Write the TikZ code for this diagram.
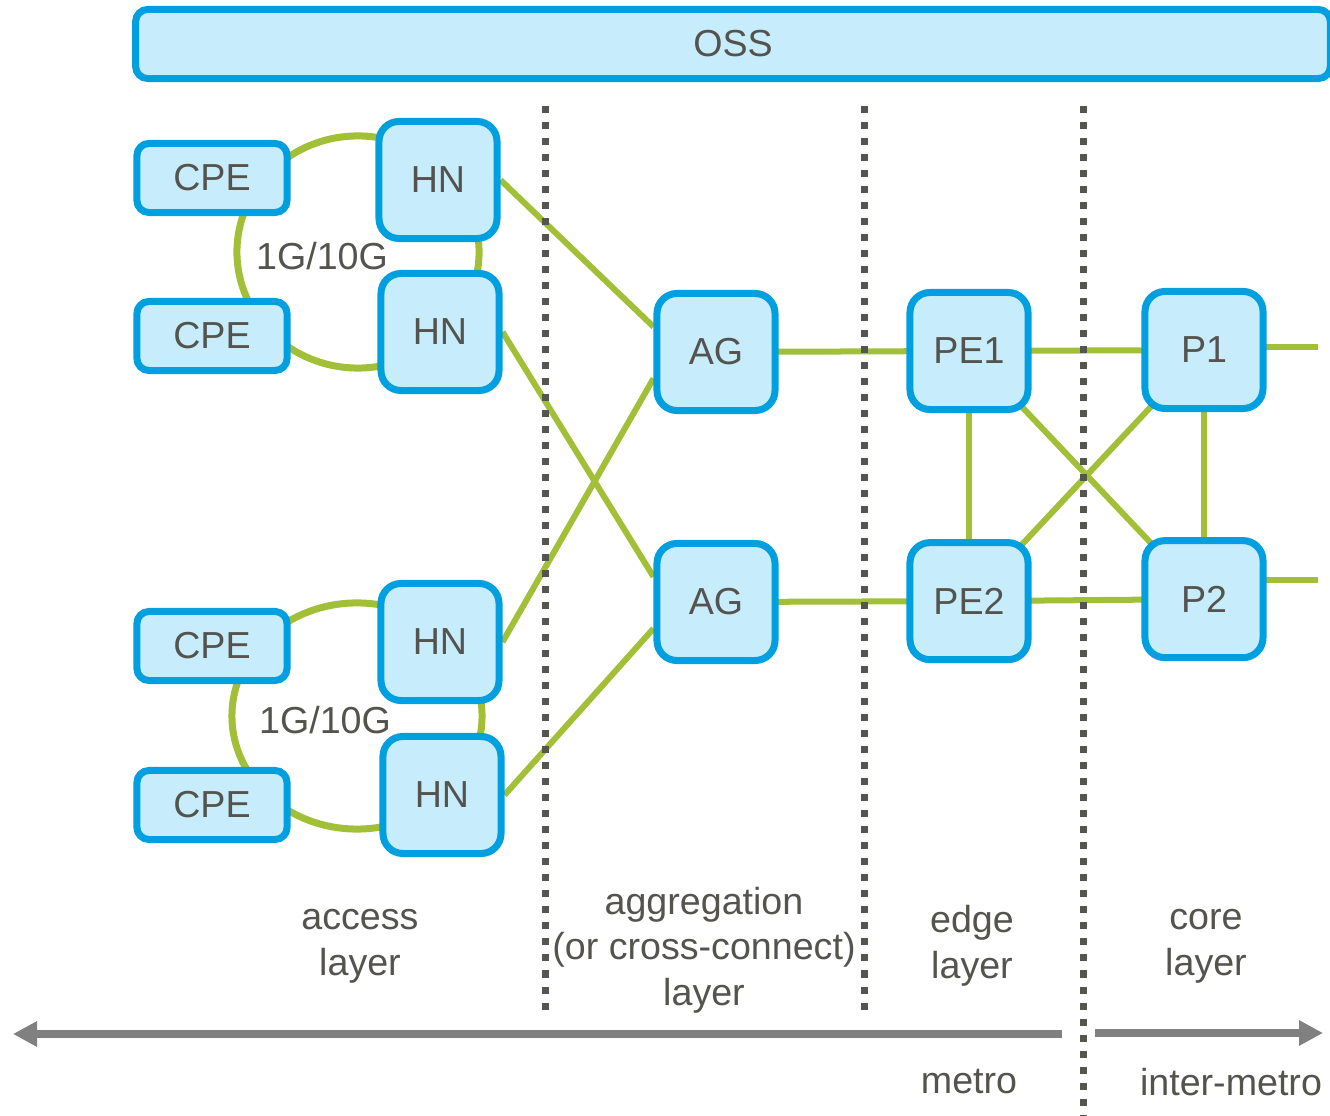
\documentclass[tikz,border=0pt]{standalone}
\usepackage{fontspec}
\setmainfont{Liberation Sans}
\usepackage{xcolor}
\definecolor{netBlue}{HTML}{009FDF}
\definecolor{netFill}{HTML}{C7EDFC}
\definecolor{netGreen}{HTML}{A2C037}
\definecolor{netText}{HTML}{54534E}
\definecolor{netDots}{HTML}{55554F}
\definecolor{netSpan}{HTML}{808080}
\usepackage{tikz}
\usetikzlibrary{arrows.meta,positioning,backgrounds}
\tikzset{
    device/.style={
        draw=netBlue,
        fill=netFill,
        rectangle,
        rounded corners=2mm,
        line width=0.7mm,
        minimum width=1.18cm,
        minimum height=1.17cm,
        inner sep=0pt,
        align=center,
        text=netText,
        font=\fontsize{10.7}{12.8}\selectfont
    },
    cpe/.style={
        device,
        rounded corners=1.2mm,
        minimum width=1.5cm,
        minimum height=0.69cm
    },
    oss/.style={
        device,
        rounded corners=1.2mm,
        minimum width=11.94cm,
        minimum height=0.69cm
    },
    link/.style={
        draw=netGreen,
        line width=0.6mm
    },
    ring/.style={
        draw=netGreen,
        line width=0.7mm
    },
    divider/.style={
        draw=netDots,
        line width=0.7mm,
        dash pattern=on 0.7mm off 0.9mm
    },
    span/.style={
        draw=netSpan,
        line width=0.7mm,
        -{Triangle[length=2.4mm,width=2.4mm]}
    },
    caption/.style={
        align=center,
        text=netText,
        font=\fontsize{10.7}{13}\selectfont
    }
}
\begin{document}
\begin{tikzpicture}[x=0.01cm, y=-0.01cm]
    \useasboundingbox (0,0) rectangle (1330,1116);

    \node[oss] (oss) at (733,44) {OSS};

    % access layer
    \node[cpe] (cpe1) at (212,178) {CPE};
    \node[cpe] (cpe2) at (212,336) {CPE};
    \node[device] (hn1) at (438,180) {HN};
    \node[device] (hn2) at (440,332) {HN};
    \node[cpe] (cpe3) at (212,646) {CPE};
    \node[cpe] (cpe4) at (212,805) {CPE};
    \node[device] (hn3) at (440,642) {HN};
    \node[device] (hn4) at (442,795) {HN};
    \node[text=netText, font=\fontsize{10.7}{12.8}\selectfont] (rate1) at (322,256) {1G/10G};
    \node[text=netText, font=\fontsize{10.7}{12.8}\selectfont] (rate2) at (325,720) {1G/10G};

    % aggregation, edge and core
    \node[device] (ag1) at (716,352) {AG};
    \node[device] (ag2) at (716,602) {AG};
    \node[device] (pe1) at (969,351) {PE1};
    \node[device, below=1.26cm of pe1] (pe2) {PE2};
    \node[device] (p1) at (1204,350) {P1};
    \node[device, below=1.25cm of p1] (p2) {P2};
    \coordinate (p1out) at (1318,347);
    \coordinate (p2out) at (1318,580);

    \begin{scope}[on background layer]
        \draw[ring] (358,252) ellipse [x radius=1.21cm, y radius=1.16cm];
        \draw[ring] (357,716) ellipse [x radius=1.25cm, y radius=1.13cm];
        \draw[link] (hn1.east) -- (ag1.158);
        \draw[link] (hn2.east) -- (ag2.158);
        \draw[link] (hn3.east) -- (ag1.203);
        \draw[link] (hn4.east) -- (ag2.203);
        \draw[link] (ag1.center) -- (pe1.center);
        \draw[link] (ag2.center) -- (pe2.center);
        \draw[link] (pe1.center) -- (p1.center);
        \draw[link] (pe2.center) -- (p2.center);
        \draw[link] (pe1.center) -- (pe2.center);
        \draw[link] (p1.center) -- (p2.center);
        \draw[link] (pe1.center) -- (p2.center);
        \draw[link] (pe2.center) -- (p1.center);
        \draw[link] (p1out -| p1.center) -- (p1out);
        \draw[link] (p2out -| p2.center) -- (p2out);
    \end{scope}

    % layer borders
    \draw[divider] (545,106) -- (545,1010);
    \draw[divider] (864,106) -- (864,1010);
    \draw[divider] (1083,106) -- (1083,1116);

    \node[caption] (access) at (360,946) {access\\layer};
    \node[caption] (aggr) at (704,950) {aggregation\\(or cross-connect)\\layer};
    \node[caption] (edge) at (972,946) {edge\\layer};
    \node[caption] (core) at (1206,946) {core\\layer};

    \coordinate (metroA) at (1062,1034);
    \coordinate (metroB) at (13,1034);
    \coordinate (interA) at (1095,1033);
    \coordinate (interB) at (1323,1033);
    \draw[span] (metroA) -- (metroB);
    \draw[span] (interA) -- (interB);
    \node[caption] (metro) at (969,1082) {metro};
    \node[caption] (inter) at (1231,1082) {inter-metro};
\end{tikzpicture}
\end{document}
